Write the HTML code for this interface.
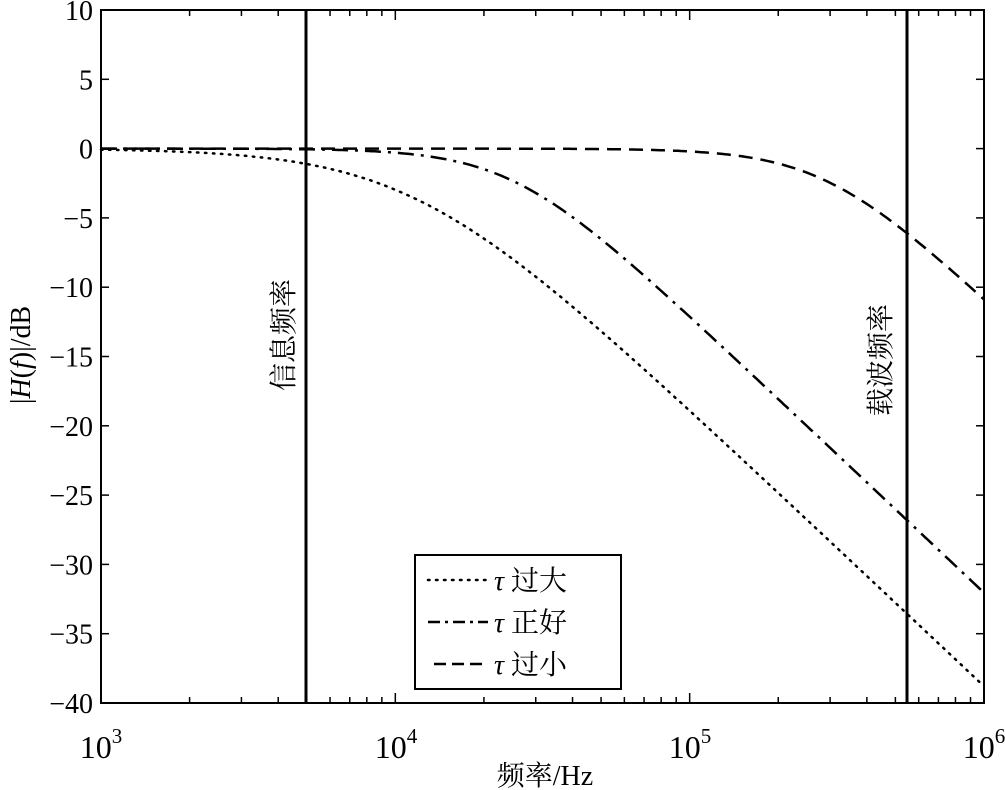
<!DOCTYPE html>
<html><head><meta charset="utf-8"><style>
body{margin:0;background:#fff}
svg{display:block}
text{font-family:"Liberation Serif","Noto Serif CJK SC",serif;fill:#000}
</style></head><body>
<svg id="s" width="1005" height="790" viewBox="0 0 1005 790" xmlns="http://www.w3.org/2000/svg">
<rect x="101" y="10" width="883" height="693" fill="none" stroke="#000" stroke-width="2"/>
<g id="ticks" stroke="#000" stroke-width="1.5"></g>
<g font-size="28" text-anchor="end" id="yl"></g>
<g font-size="32" text-anchor="middle">
<text x="101" y="758">10<tspan font-size="21" dy="-15">3</tspan></text>
<text x="396" y="758">10<tspan font-size="21" dy="-15">4</tspan></text>
<text x="690" y="758">10<tspan font-size="21" dy="-15">5</tspan></text>
<text x="984" y="758">10<tspan font-size="21" dy="-15">6</tspan></text>
</g>
<text x="545" y="785" font-size="28" text-anchor="middle">频率/Hz</text>
<text transform="translate(30,355) rotate(-90)" font-size="28" text-anchor="middle">|<tspan font-style="italic">H</tspan>(<tspan font-style="italic">f</tspan>)|/dB</text>
<line x1="306" y1="10" x2="306" y2="703" stroke="#000" stroke-width="3"/>
<line x1="907" y1="10" x2="907" y2="703" stroke="#000" stroke-width="3"/>
<text transform="translate(293,335) rotate(-90)" font-size="28" text-anchor="middle">信息频率</text>
<text transform="translate(890,360) rotate(-90)" font-size="28" text-anchor="middle">载波频率</text>
<path id="c1" fill="none" stroke="#000" stroke-width="2.5" stroke-dasharray="1.5 6.5" stroke-linecap="round"/>
<path id="c2" fill="none" stroke="#000" stroke-width="2.5" stroke-dasharray="16 7 3 7"/>
<path id="c3" fill="none" stroke="#000" stroke-width="2.5" stroke-dasharray="14 8"/>
<rect x="415" y="555" width="206" height="134" fill="#fff" stroke="#000" stroke-width="2"/>
<line x1="428" y1="580" x2="488" y2="580" stroke="#000" stroke-width="2.5" stroke-dasharray="1.5 6.5" stroke-linecap="round"/>
<line x1="428" y1="622" x2="488" y2="622" stroke="#000" stroke-width="2.5" stroke-dasharray="12 5 3 5"/>
<line x1="434" y1="664" x2="488" y2="664" stroke="#000" stroke-width="2.5" stroke-dasharray="12 6"/>
<g font-size="28">
<text x="494" y="590"><tspan font-style="italic">τ</tspan> 过大</text>
<text x="494" y="632"><tspan font-style="italic">τ</tspan> 正好</text>
<text x="494" y="674"><tspan font-style="italic">τ</tspan> 过小</text>
</g>
</svg>
<script>
var X=function(f){return 101+294.33*(Math.log10(f)-3)};
var Y=function(d){return 10+(10-d)*13.86};
var t='',yl='';
for(var v=10;v>=-40;v-=5){var y=Y(v);t+='<line x1="101" y1="'+y+'" x2="109" y2="'+y+'"/><line x1="984" y1="'+y+'" x2="976" y2="'+y+'"/>';
yl+='<text x="93" y="'+(y+10)+'">'+(v<0?'−'+(-v):v)+'</text>';}
for(var e=3;e<6;e++)for(var k=1;k<10;k++){var x=X(k*Math.pow(10,e));var L=k==1?10:6;t+='<line x1="'+x+'" y1="703" x2="'+x+'" y2="'+(703-L)+'"/><line x1="'+x+'" y1="10" x2="'+x+'" y2="'+(10+L)+'"/>';}
document.getElementById('ticks').innerHTML=t;document.getElementById('yl').innerHTML=yl;
function p(fc,n,id){var s='';for(var i=0;i<=300;i++){var f=Math.pow(10,3+3*i/300);var d=-10/n*Math.log10(1+Math.pow(f/fc,2*n));s+=(i?'L':'M')+X(f).toFixed(1)+' '+Y(d).toFixed(1);}document.getElementById(id).setAttribute('d',s);}
p(11500,0.85,'c1');p(25000,1.3,'c2');p(290000,1.3,'c3');
</script>
</body></html>
